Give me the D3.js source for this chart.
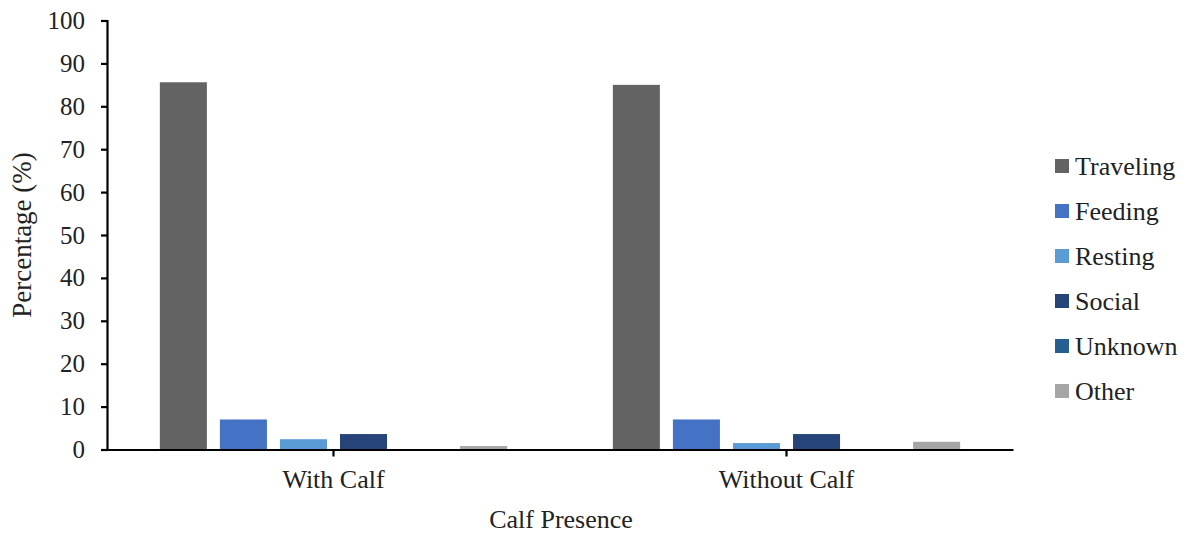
<!DOCTYPE html>
<html>
<head>
<meta charset="utf-8">
<script src="https://cdn.jsdelivr.net/npm/d3@7"></script>
</head>
<body style="margin:0">
<svg id="chart" width="1188" height="534"></svg>
<script>
const categories = ["With Calf", "Without Calf"];
const seriesNames = ["Traveling", "Feeding", "Resting", "Social", "Unknown", "Other"];
const traveling = [85.6, 85.0];
const feeding = [7.0, 7.0];
const resting = [2.4, 1.5];
const social = [3.6, 3.6];
const unknown = [0, 0];
const other = [0.8, 1.8];
const yTicks = [0, 10, 20, 30, 40, 50, 60, 70, 80, 90, 100];
const colors = ["#636363", "#4472C4", "#5B9BD5", "#264478", "#255E91", "#A5A5A5"];

const seriesValues = [traveling, feeding, resting, social, unknown, other];
const FONT = "\"Liberation Serif\"";

const svg = d3.select("#chart");
const mLeft = 107, mRight = 1013, mTop = 20.5, mBottom = 449.5;

const x0 = d3.scaleBand().domain(categories).range([mLeft, mRight]).paddingInner(0).paddingOuter(0);
const x1 = d3.scaleBand().domain(seriesNames).range([0, x0.bandwidth()]).paddingInner(0.217).paddingOuter(0.88);
const y = d3.scaleLinear().domain([0, 100]).range([mBottom, mTop]);
const color = d3.scaleOrdinal().domain(seriesNames).range(colors);

// bars
const groups = svg.append("g").selectAll("g").data(categories).join("g")
  .attr("transform", d => `translate(${x0(d)},0)`);
groups.selectAll("rect")
  .data((c, ci) => seriesNames.map((s, si) => ({ s, v: seriesValues[si][ci] })))
  .join("rect")
  .attr("x", d => x1(d.s))
  .attr("width", x1.bandwidth())
  .attr("y", d => y(d.v))
  .attr("height", d => y(0) - y(d.v))
  .attr("fill", d => color(d.s));

// y axis
const yAxis = svg.append("g").attr("transform", `translate(${mLeft},0)`)
  .call(d3.axisLeft(y).tickValues(yTicks).tickSize(6).tickSizeOuter(6).tickPadding(16));
yAxis.select(".domain").attr("stroke", "#000").attr("stroke-width", 2.2);
yAxis.selectAll(".tick line").attr("stroke", "#000").attr("stroke-width", 2.2);
yAxis.selectAll(".tick text").attr("fill", "#222")
  .style("font-family", FONT).style("font-size", "25px");

// x axis
const xAxis = svg.append("g").attr("transform", `translate(0,${mBottom})`)
  .call(d3.axisBottom(x0).tickSize(7).tickSizeOuter(0).tickPadding(13));
xAxis.select(".domain").attr("stroke", "#000").attr("stroke-width", 2.2);
xAxis.selectAll(".tick line").attr("stroke", "#000").attr("stroke-width", 2.2);
xAxis.selectAll(".tick text").attr("fill", "#222")
  .style("font-family", FONT).style("font-size", "26px");

// axis titles
svg.append("text").attr("x", 561).attr("y", 528).attr("text-anchor", "middle")
  .style("font-family", FONT).style("font-size", "26px").attr("fill", "#222").text("Calf Presence");
svg.append("text").attr("transform", "translate(31,235) rotate(-90)")
  .attr("text-anchor", "middle").style("font-family", FONT).style("font-size", "27px").attr("fill", "#222")
  .text("Percentage (%)");

// legend
const legend = svg.append("g").selectAll("g").data(seriesNames).join("g")
  .attr("transform", (d, i) => `translate(1055,${166 + i * 45})`);
legend.append("rect").attr("x", 0).attr("y", -7).attr("width", 14).attr("height", 14)
  .attr("fill", d => color(d));
legend.append("text").attr("x", 20).attr("y", 9).style("font-family", FONT).style("font-size", "26px")
  .attr("fill", "#222").text(d => d);
</script>
</body>
</html>
